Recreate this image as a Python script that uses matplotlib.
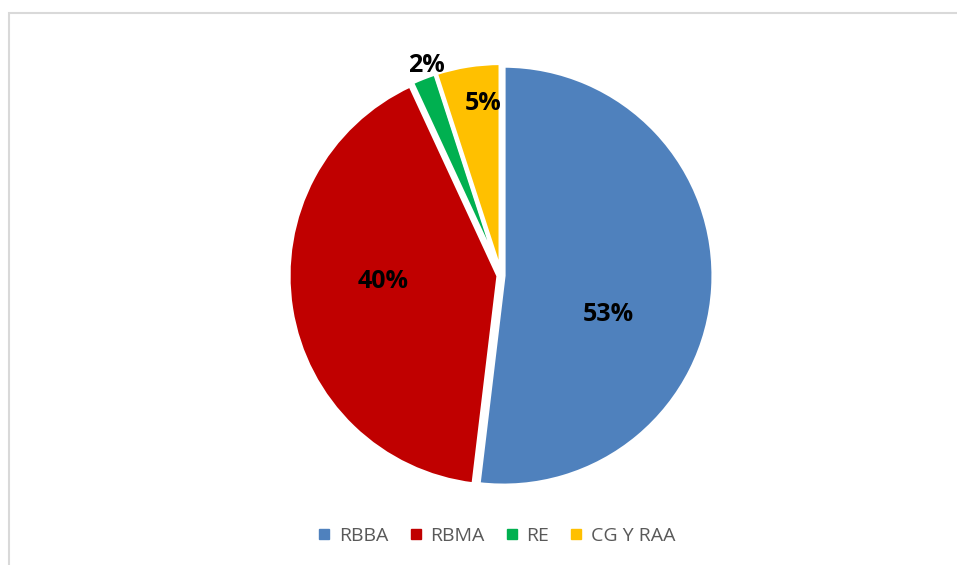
import matplotlib.pyplot as plt
from matplotlib.lines import Line2D

# data (slice sizes as drawn; labels as printed on the chart)
categories = ['RBBA', 'RBMA', 'RE', 'CG Y RAA']
shares = [51.9, 41.2, 1.9, 5.0]
pct_labels = ['53%', '40%', '2%', '5%']
colors = ['#4f81bd', '#c00000', '#00b050', '#ffc000']

# label spots inside/around the pie (axes data units, radius = 1)
label_pos = [(0.51, -0.185), (-0.56, -0.03), (-0.355, 1.0), (-0.085, 0.82)]

fig = plt.figure(figsize=(9.57, 5.65), dpi=100)
fig.patch.set_facecolor('white')

# light frame (only top/left edge visible in the original)
frame = plt.Rectangle((8.5 / 957, -0.1), 1.2, 1 - 12.5 / 565 + 0.1,
                      transform=fig.transFigure, fill=False,
                      edgecolor='#d9d9d9', linewidth=1.5)
fig.patches.append(frame)

cx, cy, r = 501, 275.5, 210
ax = fig.add_axes([(cx - r) / 957, 1 - (cy + r) / 565, 2 * r / 957, 2 * r / 565])
wedges, texts = ax.pie(shares, colors=colors, startangle=90,
                       counterclock=False, explode=[0.012] * 4,
                       wedgeprops=dict(edgecolor='white', linewidth=3))
for lab, p in zip(pct_labels, label_pos):
    ax.text(p[0], p[1], lab, ha='center', va='center', fontsize=18,
            fontweight='bold', family='Open Sans', color='black')
ax.set_xlim(-1.0, 1.0)
ax.set_ylim(-1.0, 1.0)
ax.set_aspect('equal')

handles = [Line2D([], [], marker='s', linestyle='', markersize=7,
                  markerfacecolor=c, markeredgecolor=c) for c in colors]
leg = fig.legend(handles, categories, loc='center', bbox_to_anchor=(496 / 957, 1 - 536 / 565),
                 ncol=4, frameon=False, handlelength=0.8, handletextpad=0.35,
                 columnspacing=1.0, prop={'family': 'Open Sans', 'size': 14})
for t in leg.get_texts():
    t.set_color('#595959')

fig.savefig('out.png', dpi=100, facecolor='white')
